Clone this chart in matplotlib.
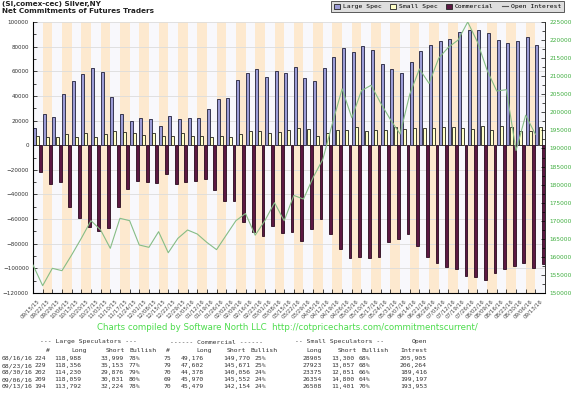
import matplotlib
matplotlib.use("Agg")
import matplotlib.pyplot as plt
import numpy as np
from matplotlib.patches import Patch
from matplotlib.lines import Line2D

# weekly report dates
dates = ["09/15/15", "09/22/15", "09/29/15", "10/06/15", "10/13/15", "10/20/15", "10/27/15",
         "11/03/15", "11/10/15", "11/17/15", "11/24/15", "12/01/15", "12/08/15", "12/15/15",
         "12/22/15", "12/29/15", "01/05/16", "01/12/16", "01/19/16", "01/26/16", "02/02/16",
         "02/09/16", "02/16/16", "02/23/16", "03/01/16", "03/08/16", "03/15/16", "03/22/16",
         "03/29/16", "04/05/16", "04/12/16", "04/19/16", "04/26/16", "05/03/16", "05/10/16",
         "05/17/16", "05/24/16", "05/31/16", "06/07/16", "06/14/16", "06/21/16", "06/28/16",
         "07/05/16", "07/12/16", "07/19/16", "07/26/16", "08/02/16", "08/09/16", "08/16/16",
         "08/23/16", "08/30/16", "09/06/16", "09/13/16"]

large_spec = [14300, 25100, 23200, 41300, 52100, 58000, 62400, 59100, 39100, 25600,
              19400, 22100, 21600, 15700, 23500, 21100, 22100, 22400, 29200, 37800,
              38600, 53200, 58900, 61800, 55600, 60500, 58300, 63500, 54800, 52100,
              62400, 71800, 79100, 75900, 80700, 77500, 66200, 62100, 59000, 67800,
              76500, 81400, 84700, 86300, 92200, 93800, 93800, 91300, 84989, 83203,
              84354, 88028, 81568]

small_spec = [7600, 6500, 7000, 9200, 7000, 9500, 7000, 9200, 11300, 10500,
              9500, 8100, 10000, 7800, 7800, 9500, 7600, 7800, 6750, 7300,
              6750, 9200, 11600, 11900, 10000, 11100, 12200, 14300, 13500, 7800,
              10000, 12700, 12700, 14600, 11600, 12700, 12700, 14900, 13000, 14000,
              14000, 14000, 14500, 14500, 14000, 13500, 15600, 12300, 15605, 14866,
              11324, 11554, 15107]

commercial = [-21500, -31500, -30100, -49900, -58800, -66700, -69400, -67500, -50400, -35800,
              -29100, -30100, -31000, -23700, -31200, -30100, -28800, -27700, -36000, -45100,
              -45350, -62400, -70500, -73700, -65600, -71600, -70500, -77800, -68300, -59900,
              -72400, -84500, -91800, -90500, -91900, -90500, -78300, -76400, -72100, -81800,
              -90500, -95400, -99200, -100800, -106200, -107300, -109400, -103500, -100594, -98069,
              -95678, -99582, -96675]

open_interest = [157750, 152030, 156830, 156180, 160520, 165130, 170020, 167440, 162370, 170670,
                 170020, 163290, 162640, 166970, 161150, 165130, 167440, 166330, 164000, 162000,
                 166000, 170000, 172000, 166000, 170000, 175000, 170000, 177000, 176000, 182000,
                 187000, 197000, 206500, 198500, 206000, 207500, 202500, 198000, 194000, 205000,
                 212000, 208000, 215000, 218000, 220000, 225000, 219500, 211700, 205905, 206264,
                 189416, 199197, 193953]

# summary table (last five reports)
tbl_dates = ["08/16/16", "08/23/16", "08/30/16", "09/06/16", "09/13/16"]
ls_n = ["224", "229", "202", "209", "194"]
ls_long = ["118,988", "118,356", "114,230", "118,059", "113,792"]
ls_short = ["33,999", "35,153", "29,876", "30,031", "32,224"]
ls_bull = ["78%", "77%", "79%", "80%", "78%"]
cm_n = ["75", "79", "70", "69", "70"]
cm_long = ["49,176", "47,602", "44,378", "45,970", "45,479"]
cm_short = ["149,770", "145,671", "140,056", "145,552", "142,154"]
cm_bull = ["25%", "25%", "24%", "24%", "24%"]
ss_long = ["28905", "27923", "23375", "26354", "26508"]
ss_short = ["13,300", "13,057", "12,051", "14,800", "11,401"]
ss_bull = ["68%", "68%", "66%", "64%", "70%"]
oi_txt = ["205,905", "206,264", "189,416", "199,197", "193,953"]

c_large = "#9c9cd6"
c_small = "#ffffc8"
c_comm = "#5c1842"
c_line = "#86bd86"
c_orange = "#fde9cf"
c_back = "#f8f8fc"

W, H = 576, 397
fig = plt.figure(figsize=(5.76, 3.97), dpi=100)
ax = fig.add_axes([33/W, 1-293/H, 512/W, 271/H])
ax.set_facecolor(c_back)

n = len(dates)
x = np.arange(n)
for i in range(1, n, 2):
    ax.axvspan(i, i+1, color=c_orange, lw=0, zorder=0)

ax.bar(x + 0.0, large_spec, width=0.31, align="edge", facecolor=c_large,
       edgecolor="#20203a", lw=0.6, zorder=3)
ax.bar(x + 0.33, small_spec, width=0.31, align="edge", facecolor=c_small,
       edgecolor="#20201a", lw=0.6, zorder=3)
ax.bar(x + 0.67, commercial, width=0.29, align="edge", facecolor=c_comm,
       edgecolor="#2a0a1e", lw=0.6, zorder=3)

ax.set_xlim(0, n)
ax.set_ylim(-120000, 100000)
ax.set_yticks(np.arange(-120000, 100001, 20000))
ax.set_yticks(np.arange(-110000, 100000, 20000), minor=True)
ax.yaxis.grid(True, color="#dcdcdc", lw=0.6, zorder=1)
ax.set_axisbelow(True)
ax.tick_params(axis="y", which="both", direction="in", labelsize=4.1, labelcolor="#333333",
               length=3, width=0.5, pad=3)
ax.tick_params(axis="y", which="minor", length=2)

ax.set_xticks(x, minor=True)
ax.set_xticks(x + 0.45)
ax.set_xticklabels(dates, rotation=45, ha="right", rotation_mode="anchor", fontsize=4.0,
                   color="#444444")
ax.tick_params(axis="x", which="major", length=0, pad=4)
ax.tick_params(axis="x", which="minor", length=3, width=0.5, direction="in")
for s in ["left", "bottom", "right"]:
    ax.spines[s].set_color("#333333")
    ax.spines[s].set_linewidth(0.7)
ax.spines["top"].set_visible(False)

ax2 = ax.twinx()
ax2.plot(x, open_interest, color=c_line, lw=0.8, zorder=5)
ax2.set_ylim(150000, 225000)
ax2.set_yticks(np.arange(150000, 225001, 5000))
ax2.set_yticks(np.arange(152500, 225000, 5000), minor=True)
ax2.tick_params(axis="y", which="both", direction="in", labelsize=4.2, labelcolor="#3fae3f",
                length=3, width=0.5, pad=3)
ax2.tick_params(axis="y", which="minor", length=2)
ax2.spines["top"].set_visible(False)
ax2.spines["right"].set_color("#333333")
ax2.spines["right"].set_linewidth(0.7)

fig.text(2/W, 1-4/H, "(SI,comex-cec) Silver,NY", fontsize=5.2, fontweight="bold",
         va="center", color="#222222")
fig.text(2/W, 1-11/H, "Net Commitments of Futures Traders", fontsize=5.2,
         fontweight="bold", va="center", color="#222222")

handles = [Patch(facecolor=c_large, edgecolor="#222222", lw=0.6),
           Patch(facecolor=c_small, edgecolor="#222222", lw=0.6),
           Patch(facecolor=c_comm, edgecolor="#222222", lw=0.6),
           Line2D([0], [0], color="#555555", lw=0.8)]
leg = fig.legend(handles, ["Large Spec", "Small Spec", "Commercial", "Open Interest"],
                 loc="upper right", bbox_to_anchor=(565/W, 1.0), ncol=4,
                 prop={"family": "DejaVu Sans Mono", "size": 4.6}, handlelength=0.9,
                 handleheight=0.9, handletextpad=0.5, columnspacing=1.3, borderpad=0.45,
                 frameon=True, fancybox=False, borderaxespad=0.1)
leg.get_frame().set_facecolor("#d6d6d6")
leg.get_frame().set_edgecolor("#333333")
leg.get_frame().set_linewidth(0.7)

fig.text(287/W, 1-328/H,
         "Charts compiled by Software North LLC  http://cotpricecharts.com/commitmentscurrent/",
         fontsize=6.25, color="#4cdc4c", ha="center", va="center")

mono = {"family": "DejaVu Sans Mono", "size": 4.6, "color": "#333333", "va": "center"}
head1_y = 1-342/H
fig.text(40/W, head1_y, "--- Large Speculators ---", **mono)
fig.text(170/W, head1_y, "------ Commercial ------", **mono)
fig.text(295/W, head1_y, "-- Small Speculators --", **mono)
fig.text(427/W, head1_y, "Open", ha="right", **mono)
head_y = 1-350.5/H
for xx, s in [(50, "#"), (87, "Long"), (125, "Short"), (157, "Bullish"), (170, "#"),
              (212, "Long"), (246, "Short"), (278, "Bullish"), (322, "Long"), (357, "Short"),
              (389, "Bullish"), (427, "Intrest")]:
    fig.text(xx/W, head_y, s, ha="right", **mono)

for r in range(5):
    yy = 1-(358.5 + r*7.0)/H
    right_cells = [(33, tbl_dates[r]), (46, ls_n[r]), (81, ls_long[r]), (124, ls_short[r]),
                   (171, cm_n[r]), (204, cm_long[r]), (250, cm_short[r]),
                   (322, ss_long[r]), (354, ss_short[r]), (427, oi_txt[r])]
    for xx, s in right_cells:
        fig.text(xx/W, yy, s, ha="right", **mono)
    for xx, s in [(129, ls_bull[r]), (255, cm_bull[r]), (359, ss_bull[r])]:
        fig.text(xx/W, yy, s, ha="left", **mono)

fig.savefig("out.png", dpi=100)
